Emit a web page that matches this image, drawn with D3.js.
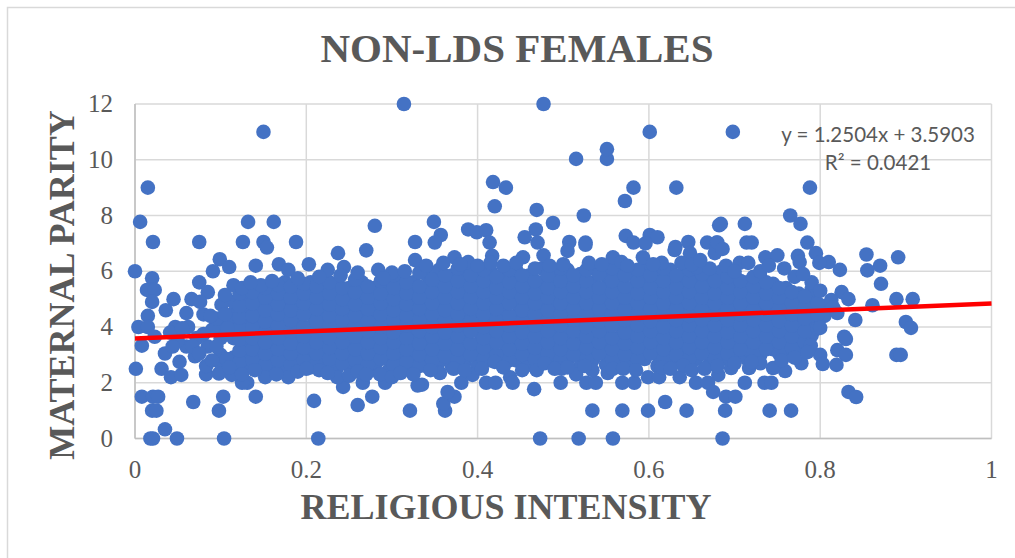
<!DOCTYPE html>
<html><head><meta charset="utf-8">
<script src="https://cdnjs.cloudflare.com/ajax/libs/d3/7.8.5/d3.min.js"></script>
<style>html,body{margin:0;padding:0;background:#fff}svg{display:block}</style></head>
<body><svg id="c" width="1015" height="558"></svg>
<script>
const chartTitle="NON-LDS FEMALES", xTitle="RELIGIOUS INTENSITY", yTitle="MATERNAL PARITY";
const xTicks=[0,0.2,0.4,0.6,0.8,1];
const yTicks=[0,2,4,6,8,10,12];
const trendSlope=1.2504, trendIntercept=3.5903;
const trendLabels=["y = 1.2504x + 3.5903","R² = 0.0421"];
// points read individually from the edge of the cloud: [x, y]
const edgePoints=[
[.314,12],[.150,11],[.015,9],[.006,7.77],[.132,7.77],[.162,7.77],[.021,7.05],[.075,7.05],[.126,7.05],[.15,7.05],[.154,6.85],[.188,7.05],[.28,7.63],[.27,6.75],[.237,6.65],[.099,6.43],[.327,7.05],[.327,6.4],[0,6],[.091,6],[.11,6.15],[.141,6.2],[.168,6.25],[.179,6.05],[.203,6.25],[.225,6.05],[.244,6.15],[.284,6.05],
[.477,12],[.601,11],[.515,10.03],[.551,10.03],[.551,10.38],[.418,9.2],[.433,9],[.632,9],[.582,9],[.572,8.52],[.42,8.33],[.469,8.2],[.524,8],[.488,7.73],[.349,7.77],[.389,7.5],[.399,7.4],[.41,7.47],[.357,7.3],[.414,7.03],[.468,7.5],[.455,7.22],[.47,7.03],[.573,7.27],[.582,7.03],[.601,7.3],[.61,7.22],[.596,7],[.507,7.05],[.526,7.03],[.505,6.73],[.526,6.95],[.631,6.87],[.63,6.76],[.646,7.05],[.648,6.65],[.668,7.03],[.682,7.65],[.679,7.03],[.677,6.65],[.35,7.03],[.373,6.5],[.389,6.33],[.417,6.55],[.415,6.3],[.453,6.5],[.477,6.57],[.484,6.2],[.558,6.5],[.568,6.33],[.593,6.5],[.615,6.3],[.638,6.3],[.656,6.15],[.671,6.1],
[.698,11],[.788,9],[.765,8],[.777,7.7],[.684,7.7],[.712,7.7],[.714,7.03],[.72,7.03],[.68,7.03],[.686,6.8],[.785,7.03],[.795,6.65],[.736,6.5],[.75,6.57],[.774,6.55],[.776,6.33],[.81,6.33],[.799,6.3],[.823,6.05],[.854,6.6],[.891,6.5],[.87,6.2],[.855,6.03],[.706,6.3],[.716,6.3],[.758,6.1],
[.871,5.55],[.889,5],[.908,5],[.861,4.78],[.9,4.18],[.906,3.97],[.841,4.25],[.828,3.65],[.83,3.57],[.82,3.17],[.83,3],[.889,3],[.894,3],[.8,3],[.803,2.67],[.819,2.64],[.833,1.67],[.842,1.49],[.8,3.97],[.789,3.33],[.778,2.7],[.759,2.42],[.745,2.53],[.717,2.53],[.696,2.53],[.681,2.28],[.712,2],[.735,2],[.743,2],[.675,1.67],[.69,1.5],[.701,1.5],[.689,1],[.741,1],[.766,1],[.686,0],[.825,5.25],[.833,5],[.813,4.97],
[.473,0],[.518,0],[.558,0],[.534,1],[.569,1],[.599,1],[.644,1],[.619,1.31],[.362,1],[.36,1.25],[.373,1.5],[.365,1.67],[.381,2],[.394,2.28],[.41,2],[.421,2],[.438,2.2],[.441,2],[.466,1.77],[.497,2],[.498,2.5],[.515,2.3],[.527,2],[.538,2],[.569,2],[.583,2],[.655,2],[.669,2],[.335,1.93],[.356,2.35],[.372,2.5],[.42,2.75],[.452,2.45],[.469,2.45],[.478,2.7],[.552,2.35],[.558,2.5],[.534,2.45],[.599,2.2],[.612,2.2],[.636,2.2],[.64,2.63],
[.104,0],[.214,0],[.049,0],[.018,0],[.021,0],[.035,.33],[.02,1],[.025,1],[.098,1],[.068,1.31],[.103,1.5],[.008,1.5],[.021,1.5],[.027,1.5],[.141,1.5],[.209,1.35],[.26,1.2],[.277,1.5],[.321,1],[.243,1.85],[.266,2],[.292,2],[.33,1.9],[.131,2],[.125,2],[.001,2.5],[.031,2.5],[.042,2.2],[.054,2.28],[.083,2.3],[.098,2.33],[.113,2.28],[.152,2.2],[.179,2.2],[.215,2.45],[.236,2.2],[.286,2.3],
[.02,5.75],[.02,5.33],[.014,5.33],[.023,5.33],[.02,4.9],[.015,4.4],[.004,4],[.015,4],[.023,3.65],[.008,3.33],[.075,5.6],[.085,5.25],[.115,5.5],[.147,5.5],[.045,5],[.036,4.6],[.066,5],[.076,4.9],[.101,4.8],[.08,4.45],[.047,4],[.062,4],[.041,3.8],[.035,3.05],[.052,2.75],[.083,2.6],[.06,3.3],[.072,3.6],[.05,3.5],[.09,3.9],[.085,3.3],[.07,2.95],[.095,4.3],[.06,4.5],
[.044,3.3],[.055,3.95],[.067,3.3],[.075,3.05],[.08,3.75],[.09,2.8],[.095,3.3],[.088,4.4],[.105,4.45],[.108,3.95],[.11,2.55],
[.19,5.75],[.215,5.8],[.24,5.85],[.26,5.95],[.30,5.95],[.315,6.0],[.29,5.75],[.125,5.4],[.135,5.6],[.16,5.65],[.105,5.15],[.34,6.2],[.36,6.3],[.38,6.25],[.4,6.2],[.43,6.2],[.445,6.3],[.5,6.25],[.53,6.3],[.545,6.25],[.575,6.2],[.605,6.25],[.65,6.25],[.69,6.2],[.73,6.0],[.74,6.2],[.77,5.8],[.79,5.6],[.80,5.3],[.815,4.7],[.78,5.9],[.82,4.5],[.66,6.4],[.7,6.0],
[.125,2.3],[.14,2.45],[.165,2.3],[.19,2.4],[.2,2.5],[.225,2.35],[.25,2.25],[.26,2.4],[.27,2.3],[.3,2.2],[.31,2.35],[.325,2.3],[.345,2.45],[.385,2.45],[.405,2.5],[.43,2.55],[.49,2.5],[.505,2.55],[.525,2.6],[.57,2.5],[.585,2.45],[.615,2.55],[.625,2.5],[.65,2.45],[.665,2.5],[.68,2.6],[.7,2.7],[.73,2.7],[.755,2.8],[.77,2.9],[.785,3.1],[.72,2.75]
];
// estimated columns of the solid cloud: [x, y, y, y, ...]
const cloudColumns=[
[.100,2.7,3.0,3.6,4.0],
[.115,2.5,2.9,3.6,4.1,4.5,4.9],
[.130,2.6,3.0,3.4,3.8,4.2,4.6,5.0],
[.145,2.5,2.85,3.2,3.6,4.0,4.4,4.8,5.15],
[.160,2.6,3.0,3.4,3.8,4.25,4.6,5.0,5.3],
[.175,2.45,2.85,3.2,3.6,4.05,4.4,4.85,5.2,5.6],
[.190,2.6,3.0,3.45,3.85,4.2,4.65,5.0,5.35],
[.205,2.55,2.85,3.25,3.65,4.0,4.45,4.85,5.25,5.6],
[.220,2.7,3.05,3.4,3.8,4.25,4.6,5.0,5.35],
[.235,2.5,2.85,3.25,3.6,4.05,4.45,4.8,5.2,5.55],
[.250,2.6,3.0,3.4,3.85,4.2,4.6,5.0,5.4],
[.265,2.45,2.85,3.2,3.65,4.0,4.45,4.85,5.25,5.6],
[.280,2.6,3.05,3.4,3.8,4.25,4.65,5.0,5.4],
[.295,2.4,2.85,3.25,3.6,4.05,4.4,4.8,5.2,5.55],
[.310,2.55,3.0,3.4,3.85,4.2,4.6,5.0,5.35,5.8],
[.325,2.4,2.8,3.2,3.6,4.0,4.45,4.85,5.25,5.6],
[.340,2.6,3.0,3.45,3.8,4.25,4.65,5.05,5.45,5.9],
[.355,2.75,3.2,3.6,4.05,4.4,4.85,5.2,5.65,6.05],
[.370,2.6,3.0,3.4,3.85,4.25,4.65,5.0,5.45,5.85],
[.385,2.75,3.2,3.6,4.0,4.45,4.8,5.25,5.65,6.0],
[.400,2.6,3.05,3.4,3.85,4.2,4.65,5.05,5.4,5.85],
[.415,2.8,3.2,3.6,4.05,4.45,4.85,5.25,5.6,6.0],
[.430,2.6,3.0,3.45,3.85,4.25,4.65,5.0,5.45,5.8],
[.445,2.8,3.2,3.65,4.0,4.4,4.85,5.2,5.65,6.05],
[.460,2.65,3.05,3.45,3.8,4.25,4.6,5.05,5.4,5.85],
[.475,2.85,3.25,3.6,4.05,4.45,4.8,5.25,5.6,6.1],
[.490,2.65,3.0,3.4,3.85,4.25,4.65,5.0,5.45,5.85],
[.505,2.8,3.2,3.6,4.0,4.45,4.85,5.25,5.65,6.05],
[.520,2.6,3.05,3.45,3.85,4.2,4.6,5.05,5.45,5.9],
[.535,2.85,3.25,3.65,4.05,4.4,4.85,5.25,5.6,6.1],
[.550,2.65,3.0,3.4,3.8,4.25,4.65,5.0,5.45,5.85],
[.565,2.8,3.2,3.6,4.05,4.45,4.8,5.2,5.65,6.05],
[.580,2.65,3.05,3.45,3.85,4.25,4.6,5.05,5.4,5.9],
[.595,2.85,3.25,3.6,4.0,4.4,4.85,5.25,5.65,6.1],
[.610,2.6,3.0,3.4,3.85,4.2,4.65,5.0,5.45,5.85],
[.625,2.8,3.2,3.65,4.05,4.45,4.85,5.2,5.6,6.05],
[.640,2.65,3.05,3.45,3.8,4.25,4.6,5.05,5.45,5.85],
[.655,2.85,3.25,3.6,4.05,4.4,4.8,5.25,5.65,6.0],
[.670,2.65,3.05,3.4,3.85,4.25,4.65,5.0,5.4,5.8],
[.685,2.85,3.2,3.6,4.0,4.45,4.85,5.2,5.6,6.0],
[.700,2.95,3.4,3.85,4.2,4.6,5.05,5.45,5.85],
[.715,2.85,3.2,3.6,4.05,4.45,4.8,5.25,5.6],
[.730,3.0,3.4,3.85,4.25,4.65,5.0,5.4,5.8],
[.745,3.2,3.6,4.0,4.4,4.85,5.2,5.55],
[.760,3.0,3.4,3.8,4.25,4.65,5.05,5.4],
[.775,3.2,3.6,4.05,4.45,4.85,5.2],
[.790,3.7,4.2,4.6,5.0,5.35],
[.805,4.4,4.75]
];
// second estimated set, between those columns, which closes the cloud
const cloudColumnsBetween=[
[.107,2.85,3.75,4.2],
[.122,2.75,3.15,3.55,3.95,4.35,4.75,5.2],
[.137,2.8,3.2,3.6,4.0,4.4,4.85,5.25],
[.152,2.65,3.05,3.45,3.8,4.2,4.6,5.05,5.4],
[.167,2.8,3.2,3.6,4.05,4.45,4.8,5.2,5.5],
[.182,2.65,3.05,3.4,3.85,4.25,4.6,5.05,5.45],
[.197,2.8,3.25,3.65,4.0,4.45,4.85,5.2,5.55],
[.212,2.7,3.05,3.45,3.85,4.2,4.65,5.05,5.45],
[.227,2.85,3.25,3.6,4.05,4.4,4.8,5.2,5.6],
[.242,2.7,3.05,3.45,3.8,4.25,4.65,5.0,5.4],
[.257,2.8,3.2,3.65,4.05,4.4,4.8,5.25,5.7],
[.272,2.65,3.05,3.45,3.85,4.2,4.65,5.05,5.45],
[.287,2.85,3.25,3.6,4.0,4.45,4.85,5.2,5.65],
[.302,2.65,3.05,3.45,3.8,4.25,4.6,5.0,5.4,5.85],
[.317,2.75,3.2,3.6,4.05,4.4,4.8,5.2,5.6],
[.332,2.6,3.0,3.4,3.85,4.25,4.65,5.05,5.45,5.95],
[.347,2.8,3.2,3.65,4.0,4.45,4.85,5.25,5.7],
[.362,2.95,3.4,3.8,4.25,4.6,5.05,5.45,5.85],
[.377,2.8,3.2,3.65,4.05,4.45,4.85,5.25,5.65,6.1],
[.392,3.0,3.4,3.85,4.2,4.65,5.05,5.45,5.85],
[.407,2.85,3.25,3.6,4.0,4.45,4.85,5.25,5.65,6.05],
[.422,3.0,3.45,3.85,4.25,4.65,5.05,5.4,5.8],
[.437,2.8,3.2,3.65,4.05,4.4,4.85,5.25,5.6,6.05],
[.452,3.0,3.4,3.8,4.2,4.6,5.05,5.45,5.85],
[.467,2.85,3.25,3.65,4.05,4.45,4.85,5.2,5.65,6.1],
[.482,3.05,3.45,3.85,4.25,4.6,5.05,5.4,5.85],
[.497,2.85,3.2,3.6,4.05,4.45,4.85,5.25,5.65,6.1],
[.512,3.0,3.4,3.85,4.25,4.65,5.05,5.45,5.85],
[.527,2.85,3.25,3.65,4.0,4.45,4.85,5.25,5.65,6.05],
[.542,3.05,3.45,3.85,4.2,4.65,5.05,5.4,5.9],
[.557,2.85,3.2,3.6,4.05,4.45,4.85,5.25,5.65,6.1],
[.572,3.0,3.4,3.8,4.25,4.6,5.05,5.45,5.85],
[.587,2.85,3.25,3.65,4.05,4.45,4.85,5.2,5.65,6.05],
[.602,3.05,3.45,3.85,4.2,4.65,5.05,5.4,5.85],
[.617,2.85,3.2,3.6,4.0,4.45,4.85,5.25,5.65,6.1],
[.632,3.0,3.45,3.85,4.25,4.65,5.05,5.4,5.85],
[.647,2.85,3.25,3.65,4.05,4.4,4.85,5.25,5.65,6.05],
[.662,3.05,3.45,3.85,4.25,4.6,5.05,5.45,5.9],
[.677,2.85,3.25,3.65,4.05,4.45,4.85,5.2,5.65],
[.692,3.05,3.45,3.8,4.25,4.65,5.05,5.4,5.8],
[.707,3.2,3.65,4.05,4.45,4.85,5.25,5.65],
[.722,3.05,3.45,3.85,4.25,4.6,5.05,5.45,5.8],
[.737,3.2,3.65,4.05,4.45,4.85,5.2,5.6],
[.752,3.05,3.45,3.85,4.2,4.65,5.05,5.4],
[.767,3.25,3.65,4.05,4.45,4.85,5.25],
[.782,3.45,3.85,4.3,4.7,5.1],
[.797,3.95,4.45,4.85]
];

const svg=d3.select("#c");
const x=d3.scaleLinear().domain([0,1]).range([135,991.5]);
const y=d3.scaleLinear().domain([0,12]).range([438.5,104]);
const grey="#595959", serif="'Liberation Serif',serif";

svg.append("path").attr("d","M7.5,558V7.5H1015").attr("fill","none").attr("stroke","#D9D9D9").attr("stroke-width",1.5);

const g=svg.append("g").attr("stroke","#D9D9D9").attr("stroke-width",1.5);
g.selectAll(".h").data(yTicks).join("line").attr("x1",x(0)).attr("x2",x(1)).attr("y1",d=>y(d)).attr("y2",d=>y(d));
g.selectAll(".v").data(xTicks).join("line").attr("y1",y(12)).attr("y2",y(0)).attr("x1",d=>x(d)).attr("x2",d=>x(d));
svg.append("line").attr("x1",x(0)).attr("x2",x(1)).attr("y1",y(0)).attr("y2",y(0)).attr("stroke","#BFBFBF").attr("stroke-width",1.5);
svg.append("line").attr("x1",x(0)).attr("x2",x(0)).attr("y1",y(12)).attr("y2",y(0)).attr("stroke","#BFBFBF").attr("stroke-width",1.5);

const cloudPoints=cloudColumns.concat(cloudColumnsBetween).flatMap(c=>c.slice(1).map(v=>[c[0],v]));
svg.append("g").selectAll("circle").data(cloudPoints.concat(edgePoints)).join("circle")
  .attr("cx",d=>x(d[0])).attr("cy",d=>y(d[1])).attr("r",7.3).attr("fill","#4472C4");

svg.append("line").attr("x1",x(0)).attr("x2",x(1))
  .attr("y1",y(trendIntercept)).attr("y2",y(trendIntercept+trendSlope))
  .attr("stroke","#FF0000").attr("stroke-width",4.5);

svg.append("g").selectAll("text").data(yTicks).join("text").attr("x",113).attr("y",d=>y(d)+8)
  .attr("text-anchor","end").attr("font-family",serif).attr("font-size",25).attr("fill",grey).text(d=>d);
svg.append("g").selectAll("text").data(xTicks).join("text").attr("x",d=>x(d)).attr("y",478)
  .attr("text-anchor","middle").attr("font-family",serif).attr("font-size",25).attr("fill",grey).text(d=>d);

svg.append("text").attr("x",517).attr("y",62).attr("text-anchor","middle").attr("font-family",serif)
  .attr("font-weight","bold").attr("font-size",41).attr("fill",grey).text(chartTitle);
svg.append("text").attr("x",506).attr("y",519).attr("text-anchor","middle").attr("font-family",serif)
  .attr("font-weight","bold").attr("font-size",36).attr("fill",grey).text(xTitle);
svg.append("text").attr("transform","translate(74,285) rotate(-90)").attr("text-anchor","middle").attr("font-family",serif)
  .attr("font-weight","bold").attr("font-size",36).attr("fill",grey).text(yTitle);

svg.append("g").selectAll("text").data(trendLabels).join("text").attr("x",878).attr("y",(d,i)=>142+i*28)
  .attr("text-anchor","middle").attr("font-family","Lato,sans-serif").attr("font-size",20.5).attr("fill",grey).text(d=>d);
</script></body></html>
